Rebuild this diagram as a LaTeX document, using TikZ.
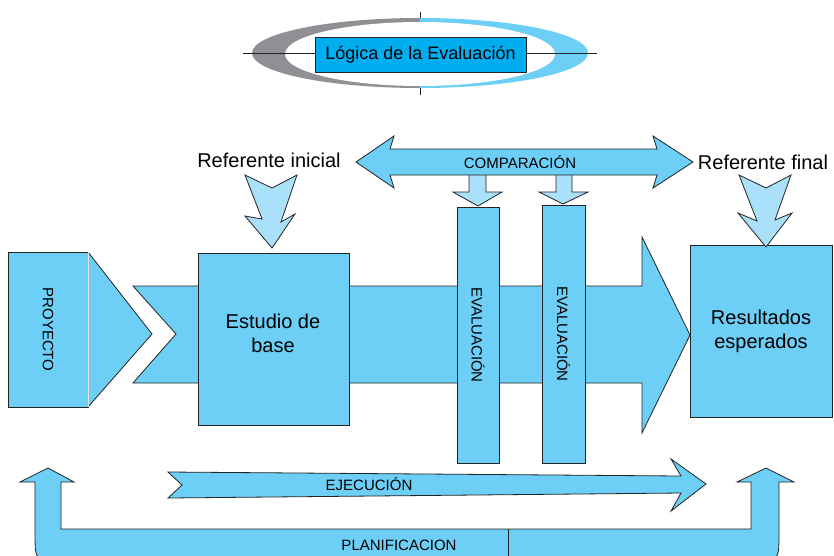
\documentclass[tikz,border=0pt]{standalone}
\usepackage{fontspec}
\setmainfont{Liberation Sans}
\usepackage{tikz}
\usetikzlibrary{positioning,calc}
\definecolor{skyfill}{RGB}{109,207,246}
\definecolor{palesky}{RGB}{170,224,249}
\definecolor{titlecyan}{RGB}{0,174,239}
\definecolor{crescentgray}{RGB}{143,144,148}
\definecolor{edgeline}{RGB}{35,35,35}

\begin{document}
\begin{tikzpicture}[x=1pt, y=-1pt,
    every node/.style={font=\fontsize{20}{24}\selectfont, text=black, inner sep=0pt},
    box/.style={draw=edgeline, fill=skyfill, line width=0.8pt, align=center},
    blockarrow/.style={draw=edgeline, fill=skyfill, line width=0.8pt, line join=miter},
    palearrow/.style={blockarrow, fill=palesky},
    smalltext/.style={font=\fontsize{15}{18}\selectfont},
]
\clip (0,0) rectangle (834,555);

% title with the ring
\draw[edgeline, line width=0.8pt] (420,12) -- (420,95);
\begin{scope}
  \clip (0,0) rectangle (420,100);
  \fill[crescentgray] (420,53) ellipse [x radius=168pt, y radius=35pt];
\end{scope}
\begin{scope}
  \clip (420,0) rectangle (600,100);
  \fill[skyfill] (420,53) ellipse [x radius=168pt, y radius=35pt];
\end{scope}
\fill[white] (420,54) ellipse [x radius=135pt, y radius=32pt];
\draw[edgeline, line width=0.8pt] (243,53) -- (597,53);
\node[box, fill=titlecyan, minimum width=211pt, minimum height=35pt, font=\fontsize{18}{22}\selectfont] (titulo) at (420.5,54.5) {Lógica de la Evaluación};

% main flow
\draw[blockarrow] (133,286) -- (642,286) -- (642,237) -- (690,335) -- (642,433) -- (642,383) -- (133,383) -- (176,334) -- cycle;

\node[box, rotate=-90, minimum width=155pt, minimum height=80pt, smalltext] (proyecto) at (48,329.5) {PROYECTO};
\fill[skyfill] (88,252) -- (152,334) -- (88,407) -- cycle;
\draw[edgeline, line width=0.8pt] (88,252) -- (152,334) -- (88,407);
\draw[white!80!gray, line width=0.5pt] (88,252) -- (88,407);

\node[box, minimum width=151pt, minimum height=172pt] (estudio) at (273.5,339) {};
\node[align=center] (estudiotext) at (273,333) {Estudio de\\base};
\node[box, minimum width=142pt, minimum height=172pt] (resultados) at (761,331) {Resultados\\esperados};

\node[box, rotate=-90, minimum width=256pt, minimum height=42pt, smalltext] (eval1) at (478,335) {EVALUACIÓN};
\node[box, rotate=-90, minimum width=258pt, minimum height=43pt, smalltext] (eval2) at (563.5,334) {EVALUACIÓN};

% comparison
\draw[palearrow] (469,175) -- (469,192) -- (453,192) -- (478,206) -- (502,192) -- (486,192) -- (486,175);
\draw[palearrow] (556,175) -- (556,192) -- (539,192) -- (563,204) -- (588,192) -- (572,192) -- (572,175);
\draw[blockarrow] (356,162) -- (394,136) -- (390,149) -- (657,149) -- (653,136) -- (693,162) -- (653,188) -- (657,175) -- (390,175) -- (394,188) -- cycle;
\node[smalltext] (comparacion) at (520,162) {COMPARACIÓN};

% referents
\node (refinicial) at (269,160) {Referente inicial};
\node (reffinal) at (763,162) {Referente final};
\draw[palearrow] (245,175) -- (272,188) -- (297,175) -- (281,222) -- (295,214) -- (272,248) -- (245,216) -- (262,219) -- cycle;
\draw[palearrow] (739,175) -- (766,188) -- (791,175) -- (775,220) -- (792,213) -- (766,247) -- (738,213) -- (757,221) -- cycle;

% execution and planning
\draw[blockarrow] (168,472) -- (681,476) -- (671,459) -- (706,484) -- (671,511) -- (681,493) -- (168,498) -- (182,485) -- cycle;
\node[smalltext] (ejecucion) at (369,484) {EJECUCIÓN};

\draw[blockarrow] (48,468) -- (74,482) -- (61,482) -- (61,529) -- (751,529) -- (751,482) -- (737,482) -- (766,468) -- (794,482) -- (779,482) -- (779,532) .. controls (779,562) .. (749,562) -- (65,562) .. controls (35,562) .. (35,532) -- (35,482) -- (20,482) -- cycle;
\draw[edgeline, line width=0.8pt] (508,529) -- (508,560);
\node[smalltext] (planificacion) at (399,545) {PLANIFICACION};
\end{tikzpicture}
\end{document}
